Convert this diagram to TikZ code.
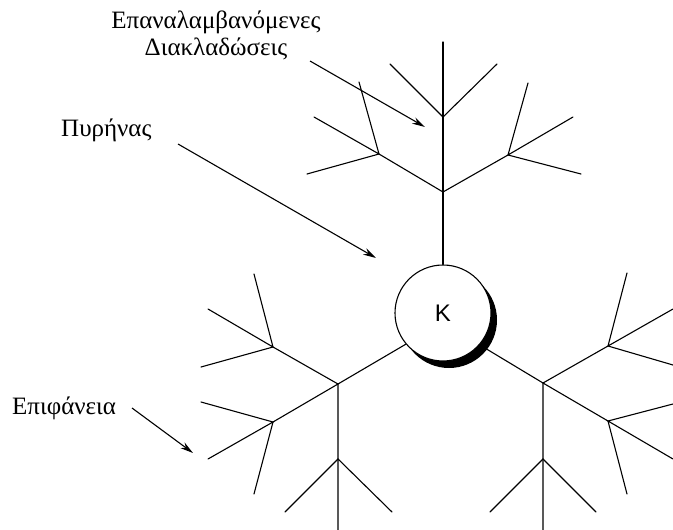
\documentclass[tikz,border=0pt]{standalone}
\usepackage{fontspec}
\setmainfont{Liberation Serif}
\newfontfamily\labelsans{Liberation Sans}
\usetikzlibrary{arrows.meta}
\begin{document}
\begin{tikzpicture}[x=1pt,y=-1pt,
  br/.style={line width=1.1pt,line cap=round},
  pointer/.style={line width=1.1pt,-{Stealth[length=13pt,width=7pt]}},
  lbl/.style={inner sep=0pt,font=\fontsize{25}{27}\selectfont},
  core/.style={circle,draw,line width=1.1pt,fill=white,minimum size=96pt,inner sep=0pt,font=\labelsans\fontsize{24}{24}\selectfont}]
\useasboundingbox (0,0) rectangle (673,530);
% nucleus with shadow
\fill[black] (449,320) circle (48pt);
\node[core] (c) at (443,313) {K};
% top tree
\coordinate (t0) at (443,42);
\coordinate (t1) at (443,117);
\coordinate (t2) at (443,192);
\coordinate (t1a) at (390,64);
\coordinate (t1b) at (497,64);
\coordinate (tl) at (379,154);
\coordinate (tr) at (508,155);
\coordinate (tla) at (359,82);
\coordinate (tlb) at (314,117);
\coordinate (tlc) at (307,174);
\coordinate (tra) at (528,83);
\coordinate (trb) at (573,117);
\coordinate (trc) at (581,174);
\draw[br] (c.north) -- (t0);
\draw[br] (t1a) -- (t1) -- (t1b);
\draw[br] (tl) -- (t2) -- (tr);
\draw[br] (tla) -- (tl) -- (tlb);
\draw[br] (tl) -- (tlc);
\draw[br] (tra) -- (tr) -- (trb);
\draw[br] (tr) -- (trc);
% lower-left tree
\coordinate (l) at (338,384);
\coordinate (la) at (273,347);
\coordinate (lb) at (273,422);
\coordinate (lc) at (338,459);
\coordinate (l0) at (338,530);
\coordinate (la1) at (254,274);
\coordinate (la2) at (208,309);
\coordinate (la3) at (201,367);
\coordinate (lb1) at (201,402);
\coordinate (lb2) at (208,459);
\coordinate (lb3) at (254,494);
\coordinate (lc1) at (285,512);
\coordinate (lc2) at (392,512);
\draw[br] (c.220) -- (l) -- (l0);
\draw[br] (la) -- (l) -- (lb);
\draw[br] (la1) -- (la) -- (la2);
\draw[br] (la) -- (la3);
\draw[br] (lb1) -- (lb) -- (lb2);
\draw[br] (lb) -- (lb3);
\draw[br] (lc1) -- (lc) -- (lc2);
% lower-right tree
\coordinate (r) at (543,383);
\coordinate (ra) at (608,346);
\coordinate (rb) at (608,421);
\coordinate (rc) at (543,459);
\coordinate (r0) at (543,530);
\coordinate (ra1) at (627,273);
\coordinate (ra2) at (673,309);
\coordinate (ra3) at (673,365);
\coordinate (rb1) at (673,404);
\coordinate (rb2) at (673,459);
\coordinate (rb3) at (627,494);
\coordinate (rc1) at (490,512);
\coordinate (rc2) at (596,512);
\draw[br] (c.-41) -- (r) -- (r0);
\draw[br] (ra) -- (r) -- (rb);
\draw[br] (ra1) -- (ra) -- (ra2);
\draw[br] (ra) -- (ra3);
\draw[br] (rb1) -- (rb) -- (rb2);
\draw[br] (rb) -- (rb3);
\draw[br] (rc1) -- (rc) -- (rc2);
% labels
\node[lbl,anchor=base,align=center] (rep) at (216,55) {Επαναλαμβανόμενες\\Διακλαδώσεις};
\node[lbl,anchor=base west] (nuc) at (61,136) {Πυρήνας};
\node[lbl,anchor=base west] (surf) at (12,414) {Επιφάνεια};
\coordinate (a1s) at (310,61);
\coordinate (a1e) at (425,127);
\coordinate (a2s) at (178,144);
\coordinate (a2e) at (376,258);
\coordinate (a3s) at (132,408);
\coordinate (a3e) at (193,453);
\draw[pointer] (a1s) -- (a1e);
\draw[pointer] (a2s) -- (a2e);
\draw[pointer] (a3s) -- (a3e);
\end{tikzpicture}
\end{document}
